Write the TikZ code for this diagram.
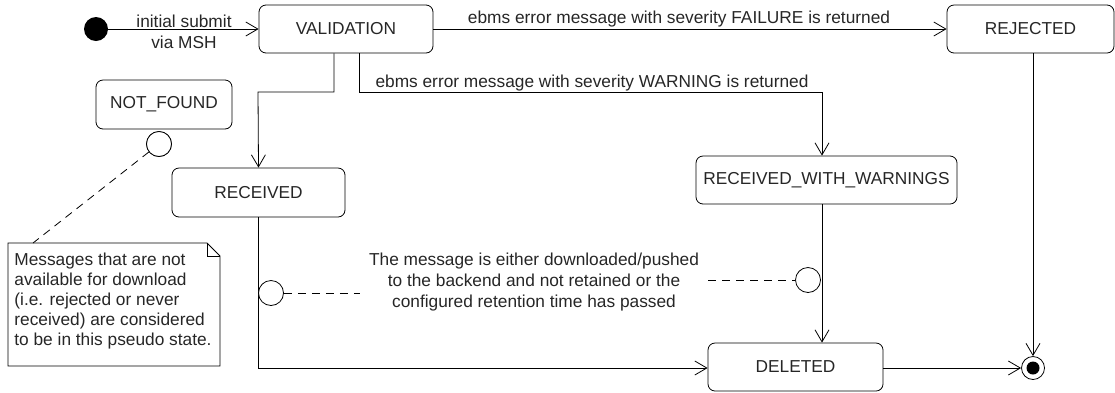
\documentclass[tikz,border=0pt]{standalone}
\usepackage{fontspec}
\setmainfont{Liberation Sans}
\usetikzlibrary{arrows.meta,calc}
\begin{document}
\begin{tikzpicture}[x=1pt,y=-1pt,
  line width=0.8pt,
  every node/.style={font=\fontsize{17.3}{20}\selectfont, text=black!85},
  ustate/.style={draw, rounded corners=7pt, minimum height=48pt, inner sep=0pt},
  tr/.style={draw, -{Straight Barb[length=12pt,width=14pt,line width=0.8pt]}},
  pseudo/.style={draw, circle, minimum size=25pt, inner sep=0pt, fill=white},
  dsh/.style={draw, dash pattern=on 8pt off 6pt},
  lbl/.style={inner sep=0pt, anchor=base}
]
\useasboundingbox (0,0) rectangle (1115,392);

% states
\node[ustate, minimum width=174pt] (val) at (346,29) {VALIDATION};
\node[ustate, minimum width=167pt] (rej) at (1030.5,29) {REJECTED};
\node[ustate, minimum width=136pt, minimum height=49pt] (nf) at (164,104.5) {NOT\_FOUND};
\node[ustate, minimum width=173pt, minimum height=49pt] (rec) at (258.5,192.5) {RECEIVED};
\node[ustate, minimum width=261pt] (rww) at (826.5,180) {RECEIVED\_WITH\_WARNINGS};
\node[ustate, minimum width=175pt] (del) at (795.5,367) {DELETED};

% initial and final
\node[circle, fill=black, minimum size=24pt, inner sep=0pt] (init) at (96,29) {};
\node[circle, draw, minimum size=23pt, inner sep=0pt] (fin) at (1033,368) {};
\node[circle, fill=black, minimum size=13pt, inner sep=0pt] at (fin) {};

% bend coordinates
\coordinate (b1) at (258,92);
\coordinate (b2) at (822,92);
\coordinate (b3) at (258,368);

% transitions
\draw[tr] (init) -- (val.west);
\node[lbl] (l1) at (184,27) {initial submit};
\node[lbl] (l2) at (184,48) {via MSH};

\draw[tr] (val.east) -- (rej.west);
\node[lbl] (l3) at (679,23) {ebms error message with severity FAILURE is returned};

\draw[tr] ([xshift=-12pt]val.south) |- (b1) -- (rec.north);
\draw[tr] ([xshift=13pt]val.south) |- (b2) -- (b2 |- rww.north);
\node[lbl] (l4) at (592,87) {ebms error message with severity WARNING is returned};

\draw[tr] (b2 |- rww.south) -- (b2 |- del.north);
\draw[tr] (rec.south -| b3) -- (b3) -- (del.west |- b3);
\draw[tr] (del.east |- fin) -- (fin.west);
\draw[tr] (rej.south -| fin) -- (fin.north);

% pseudo circles on lines
\node[pseudo] (c1) at (271,293) {};
\node[pseudo] (c2) at (808,280) {};
\node[pseudo] (c3) at (159,144) {};

% middle label (base anchor = last line)
\node[align=center, inner sep=0pt, anchor=base] (ml) at (534,307)
  {The message is either downloaded/pushed\\[1pt] to the backend and not retained or the\\[1pt] configured retention time has passed};
\coordinate (d1) at (360,293);
\coordinate (d2) at (708,280);
\draw[dsh] (c1.east) -- (d1);
\draw[dsh] (d2) -- (c2.west);

% note
\coordinate (n1) at (8,243);
\coordinate (n2) at (207,243);
\coordinate (n3) at (220,256);
\coordinate (n4) at (220,366);
\coordinate (n5) at (8,366);
\draw (n1) -- (n2) -- (n3) -- (n4) -- (n5) -- cycle;
\draw (n2) -- (n2 |- n3) -- (n3);
\node[anchor=base west, inner sep=0pt, align=left] (note) at (14,345)
  {Messages that are not\\available for download\\(i.e. rejected or never\\received) are considered\\to be in this pseudo state.};
\coordinate (nt) at (33,243);
\draw[dsh] (c3) -- (nt);
\node[pseudo] at (c3) {};
\end{tikzpicture}
\end{document}
